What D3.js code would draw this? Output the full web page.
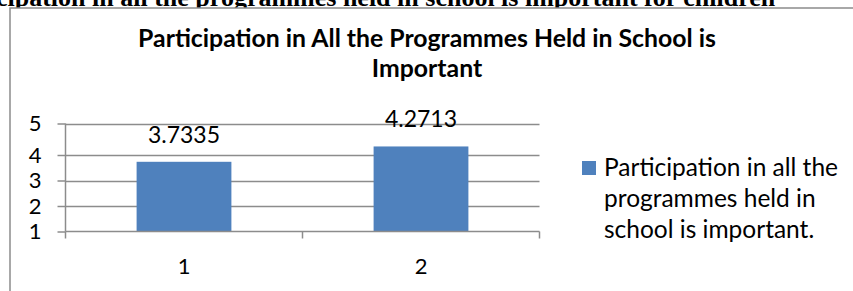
<!DOCTYPE html>
<html>
<head>
<meta charset="utf-8">
<script src="https://cdn.jsdelivr.net/npm/d3@7"></script>
<style>
  body { margin: 0; background: #fff; }
  svg { display: block; }
</style>
</head>
<body>
<div id="chart"></div>
<script>
// chart data
var categories = ["1", "2"],
  values = [3.7335, 4.2713],
  yTicks = [1, 2, 3, 4, 5],
  seriesName = "Participation in all the programmes held in school is important.",
  legendLines = ["Participation in all the", "programmes held in", "school is important."],
  titleLines = ["Participation in All the Programmes Held in School is", "Important"],
  pageHeading = "Participation in all the programmes held in school is important for children";

var W = 853, H = 291,
  plot = {left: 65.5, right: 539.5, bottom: 231.5};

var font = "Lato, 'Noto Sans', sans-serif",
  grey = "#8c8c8c";

var svg = d3.select("#chart")
  .append("svg")
  .attr("width", W)
  .attr("height", H);

// heading of the page behind the chart, cut at the top
var heading = svg.append("text")
  .attr("y", 5.5)
  .attr("font-family", "'Liberation Serif', serif")
  .attr("font-weight", "bold")
  .attr("font-size", 26)
  .attr("fill", "#000")
  .text(pageHeading);
// push "Parti" off the left edge
var cut = heading.node().getSubStringLength(0, 5);
heading.attr("x", -cut - 4);

// chart frame (opaque, covers the heading's descenders)
svg.append("rect")
  .attr("x", 10)
  .attr("y", 8)
  .attr("width", 900)
  .attr("height", 400)
  .attr("fill", "#fff")
  .attr("stroke", grey)
  .attr("stroke-width", 1.5);

// title
svg.selectAll("text.title")
  .data(titleLines)
  .enter().append("text")
  .attr("class", "title")
  .attr("x", 427)
  .attr("y", function(d, i) { return 47 + i * 30; })
  .attr("text-anchor", "middle")
  .attr("font-family", font)
  .attr("font-weight", "bold")
  .attr("font-size", 24.8)
  .text(function(d) { return d; });

// scales
var xScale = d3.scaleBand()
  .domain(categories)
  .range([plot.left, plot.right])
  .paddingInner(0.6)
  .paddingOuter(0.3);

// the 4-5 gridline gap is wider in the picture
var yScale = d3.scaleLinear()
  .domain([1, 4, 5])
  .range([plot.bottom, 155, 123.5]);

// gridlines
svg.append("g")
  .selectAll("line")
  .data(yTicks.slice(1))
  .enter().append("line")
  .attr("x1", plot.left)
  .attr("x2", plot.right)
  .attr("y1", function(d) { return Math.round(yScale(d)) + 0.5; })
  .attr("y2", function(d) { return Math.round(yScale(d)) + 0.5; })
  .attr("stroke", grey)
  .attr("stroke-width", 1.5);

// bars
svg.append("g")
  .selectAll("rect")
  .data(values)
  .enter().append("rect")
  .attr("x", function(d, i) { return xScale(categories[i]); })
  .attr("y", function(d) { return yScale(d); })
  .attr("width", xScale.bandwidth())
  .attr("height", function(d) { return yScale(1) - yScale(d); })
  .attr("fill", "#4f81bd");

// value labels
svg.append("g")
  .selectAll("text")
  .data(values)
  .enter().append("text")
  .attr("x", function(d, i) { return xScale(categories[i]) + xScale.bandwidth() / 2; })
  .attr("y", function(d) { return yScale(d) - 19; })
  .attr("text-anchor", "middle")
  .attr("font-family", font)
  .attr("font-size", 23)
  .text(function(d) { return d; });

// y axis
var yAxis = svg.append("g")
  .attr("transform", "translate(" + plot.left + ",0)")
  .call(d3.axisLeft(yScale)
    .tickValues(yTicks)
    .tickSize(8)
    .tickPadding(16)
    .tickFormat(d3.format("d")));

// x axis (category boundaries as ticks)
var xAxis = svg.append("g")
  .attr("transform", "translate(0," + plot.bottom + ")")
  .call(d3.axisBottom(xScale).tickSize(0));

var step = xScale.step(),
  edges = [plot.left, plot.left + step, plot.right];
xAxis.selectAll("line.edge")
  .data(edges)
  .enter().append("line")
  .attr("class", "edge")
  .attr("x1", function(d) { return d; })
  .attr("x2", function(d) { return d; })
  .attr("y1", 0)
  .attr("y2", 7)
  .attr("stroke", grey)
  .attr("stroke-width", 1.5);

[yAxis, xAxis].forEach(function(g) {
  g.attr("font-family", font).attr("font-size", 22);
  g.select(".domain").attr("stroke", grey).attr("stroke-width", 1.5);
  g.selectAll(".tick line").attr("stroke", grey).attr("stroke-width", 1.5);
  g.selectAll("text").attr("fill", "#000");
});
yAxis.select(".domain").attr("d", "M0," + plot.bottom + "V" + yScale(5));
xAxis.select(".domain").attr("d", "M" + plot.left + ",0H" + plot.right);
xAxis.selectAll(".tick text").attr("dy", null).attr("y", 42.5);

// legend
var legend = svg.append("g")
  .attr("transform", "translate(582,161)");

legend.append("rect")
  .attr("width", 14)
  .attr("height", 14)
  .attr("fill", "#4f81bd");

legend.append("text")
  .attr("y", 15)
  .attr("font-family", font)
  .attr("font-size", 24.5)
  .selectAll("tspan")
  .data(legendLines)
  .enter().append("tspan")
  .attr("x", 22)
  .attr("dy", function(d, i) { return i === 0 ? 0 : 31; })
  .text(function(d) { return d; });

legend.append("title").text(seriesName);
</script>
</body>
</html>
